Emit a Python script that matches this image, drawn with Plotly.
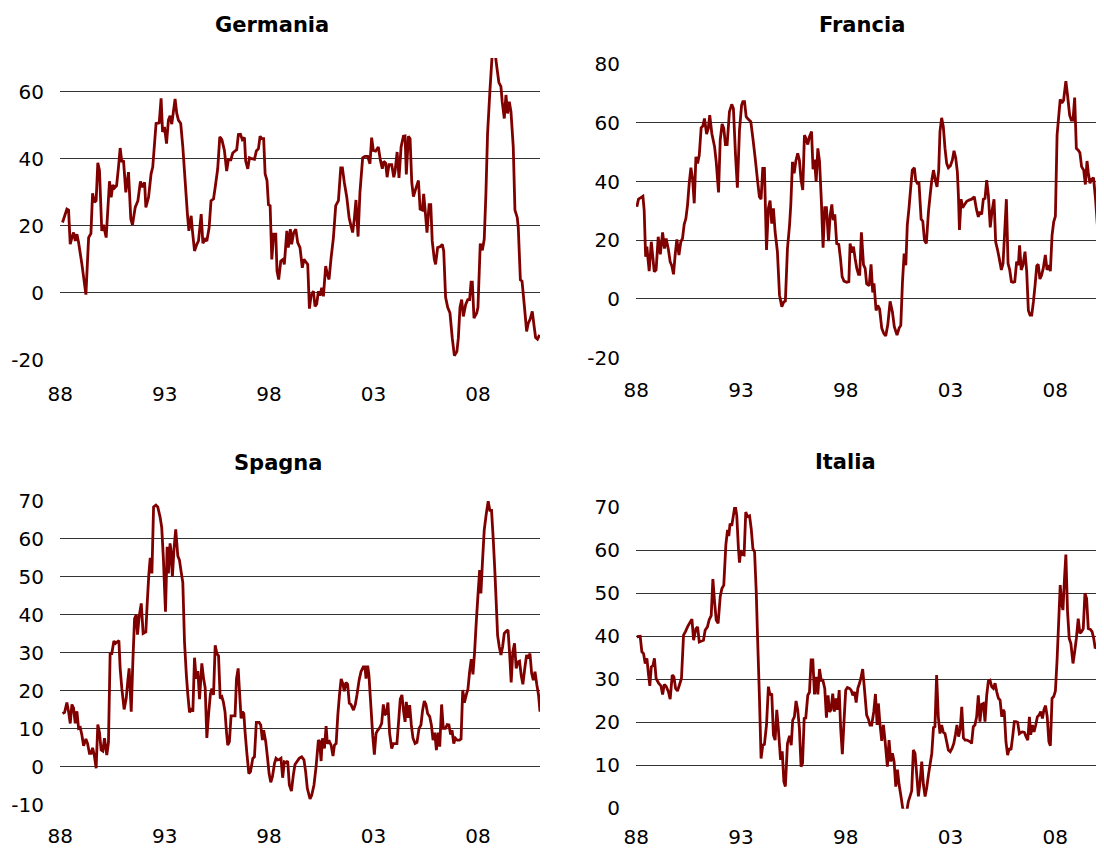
import plotly.graph_objects as go

# anni decimali (asse x) e valori
GERMANIA = [
    (1988.11, 21), (1988.32, 25), (1988.40, 24.7), (1988.48, 14.5), (1988.56, 16.5), (1988.64, 18),
    (1988.72, 15.5), (1988.80, 17.5), (1988.88, 15), (1989.04, 8.5), (1989.23, -0.5), (1989.36, 16.5),
    (1989.47, 17.7), (1989.55, 29.7), (1989.64, 27), (1989.72, 27.5), (1989.80, 38.8), (1989.88, 36.5),
    (1989.99, 18.5), (1990.07, 20.3), (1990.20, 16.5), (1990.36, 33.3), (1990.44, 28.5), (1990.52, 32.2),
    (1990.60, 31.3), (1990.70, 32), (1990.79, 37.5), (1990.87, 43.2), (1990.95, 39), (1991.03, 39.5),
    (1991.14, 30), (1991.27, 36), (1991.38, 22), (1991.46, 20.3), (1991.59, 25.5), (1991.72, 27.5),
    (1991.84, 33.2), (1991.94, 31.5), (1992.04, 33), (1992.10, 25.5), (1992.23, 28.5), (1992.35, 35.5),
    (1992.43, 37.5), (1992.59, 50.5), (1992.74, 50.7), (1992.83, 58), (1992.90, 48), (1992.99, 49.5),
    (1993.09, 44.5), (1993.18, 51.5), (1993.26, 52.8), (1993.34, 50.3), (1993.50, 57.8), (1993.58, 53.5),
    (1993.66, 51.5), (1993.77, 50.5), (1993.87, 43.5), (1993.98, 33.5), (1994.09, 23.5), (1994.16, 18.5),
    (1994.27, 23), (1994.33, 18.5), (1994.43, 12.5), (1994.54, 14.5), (1994.62, 15.5), (1994.75, 23.5),
    (1994.83, 14.8), (1994.94, 16), (1995.02, 15.5), (1995.13, 19.5), (1995.22, 27.5), (1995.34, 28),
    (1995.42, 31.5), (1995.54, 37), (1995.64, 46.5), (1995.74, 45.7), (1995.86, 42.5), (1995.97, 36.3),
    (1996.05, 39.7), (1996.17, 39.7), (1996.26, 41.7), (1996.37, 42.3), (1996.45, 42.7), (1996.53, 47.2),
    (1996.63, 47.3), (1996.72, 45.7), (1996.82, 46.3), (1996.88, 39.3), (1996.98, 37), (1997.06, 40.3),
    (1997.17, 40), (1997.30, 39.8), (1997.39, 42.3), (1997.49, 43), (1997.57, 46.7), (1997.65, 46),
    (1997.74, 46), (1997.81, 35.5), (1997.90, 33.5), (1997.97, 26.3), (1998.05, 26), (1998.13, 10),
    (1998.22, 17.5), (1998.32, 17.5), (1998.38, 6.5), (1998.46, 4), (1998.56, 9.5), (1998.67, 10),
    (1998.73, 8.5), (1998.85, 18.5), (1998.92, 13.5), (1999.02, 19), (1999.08, 14.5), (1999.18, 18),
    (1999.28, 19), (1999.37, 15), (1999.48, 13.5), (1999.59, 7.5), (1999.67, 10), (1999.85, 8.5),
    (1999.93, -4.7), (2000.01, -0.8), (2000.12, 0.5), (2000.20, -4), (2000.28, -3.3), (2000.36, 0.5),
    (2000.44, -0.8), (2000.52, 1.5), (2000.60, -1), (2000.71, 8), (2000.79, 5.5), (2000.87, 4),
    (2000.97, 10.5), (2001.08, 16.5), (2001.19, 26), (2001.32, 27.5), (2001.43, 37.3), (2001.51, 37.3),
    (2001.60, 33), (2001.72, 28.5), (2001.83, 22.5), (2001.92, 20), (2002.00, 18), (2002.08, 22),
    (2002.16, 27.7), (2002.26, 16.8), (2002.35, 30), (2002.48, 40.3), (2002.59, 40.7), (2002.72, 40.7),
    (2002.83, 38.5), (2002.91, 46.3), (2002.99, 42.5), (2003.10, 42.3), (2003.23, 43.5), (2003.33, 39.5),
    (2003.42, 37), (2003.49, 39.2), (2003.58, 38.7), (2003.65, 34.5), (2003.74, 38.2), (2003.87, 38.2),
    (2003.97, 34.5), (2004.03, 36.2), (2004.13, 42), (2004.22, 34.3), (2004.32, 43.5), (2004.43, 46.7),
    (2004.51, 46.8), (2004.57, 35.3), (2004.67, 46.7), (2004.75, 46), (2004.83, 33), (2004.91, 28.7),
    (2005.02, 31), (2005.15, 33.5), (2005.23, 25), (2005.34, 24.7), (2005.40, 29.5), (2005.46, 25.5),
    (2005.56, 18), (2005.66, 26.3), (2005.74, 26.3), (2005.81, 15.5), (2005.91, 10), (2005.97, 8.5),
    (2006.07, 13.5), (2006.20, 13.8), (2006.29, 14.5), (2006.36, 12.5), (2006.45, -1.3), (2006.55, -4.3),
    (2006.66, -6), (2006.77, -13.5), (2006.87, -18.7), (2006.99, -17.5), (2007.06, -13.5), (2007.14, -4.3),
    (2007.22, -2), (2007.30, -7), (2007.41, -3.5), (2007.51, -2), (2007.60, -2), (2007.67, 3.2),
    (2007.73, 3.2), (2007.81, -7.5), (2007.94, -6), (2008.00, -4.3), (2008.11, 14.7), (2008.21, 12.7),
    (2008.30, 16), (2008.38, 29.5), (2008.46, 47.5), (2008.57, 60), (2008.69, 72), (2008.81, 72),
    (2008.91, 67), (2009.00, 62.8), (2009.10, 61.5), (2009.16, 57), (2009.26, 52), (2009.34, 59),
    (2009.42, 53.5), (2009.50, 57), (2009.58, 54), (2009.69, 43.5), (2009.77, 24.7), (2009.88, 22.5),
    (2009.93, 19.5), (2010.03, 3.9), (2010.11, 3.5), (2010.22, -3.8), (2010.33, -11.5), (2010.41, -9),
    (2010.50, -7.8), (2010.60, -5.5), (2010.70, -10.5), (2010.76, -13.3), (2010.85, -13.8), (2010.95, -12.5),
]

FRANCIA = [
    (1988.03, 31.4), (1988.11, 34), (1988.22, 34.5), (1988.32, 35), (1988.38, 30.3), (1988.45, 14.4),
    (1988.51, 17.8), (1988.56, 13.8), (1988.62, 9.5), (1988.72, 19.5), (1988.80, 13.8), (1988.86, 9.3),
    (1988.95, 9.9), (1989.05, 21.2), (1989.15, 15.2), (1989.26, 22.7), (1989.35, 17.2), (1989.43, 20.6),
    (1989.54, 16.7), (1989.62, 12.7), (1989.70, 11.3), (1989.78, 8.4), (1989.86, 15), (1989.94, 20.3),
    (1990.04, 15), (1990.13, 19.5), (1990.21, 20.6), (1990.29, 25.4), (1990.37, 27.4), (1990.45, 32),
    (1990.53, 39.4), (1990.61, 44.7), (1990.69, 41.1), (1990.77, 32.6), (1990.85, 48.4), (1990.93, 46.2),
    (1991.01, 49), (1991.10, 58.3), (1991.18, 58.9), (1991.26, 61.5), (1991.36, 56.2), (1991.44, 58.1),
    (1991.51, 62.6), (1991.61, 56.4), (1991.74, 51.9), (1991.82, 46.7), (1991.93, 36.3), (1992.01, 54.1),
    (1992.10, 59.6), (1992.18, 58.1), (1992.26, 52.6), (1992.34, 52.6), (1992.45, 63.8), (1992.56, 66.3),
    (1992.64, 64.9), (1992.74, 49), (1992.83, 37.9), (1992.93, 57.5), (1993.03, 66), (1993.09, 67.2),
    (1993.17, 67.2), (1993.25, 62.1), (1993.34, 61.3), (1993.47, 60.4), (1993.57, 54.7), (1993.68, 47.9),
    (1993.79, 40.5), (1993.88, 34.8), (1993.96, 34), (1994.04, 44.5), (1994.12, 44.5), (1994.22, 16.7),
    (1994.31, 30.9), (1994.39, 33.5), (1994.47, 25.7), (1994.55, 30.9), (1994.63, 22.9), (1994.74, 16.1),
    (1994.84, 1.3), (1994.95, -2.6), (1995.05, -0.9), (1995.12, -0.7), (1995.22, 17.2), (1995.32, 25.2),
    (1995.38, 32.2), (1995.46, 46.7), (1995.54, 42.8), (1995.62, 47), (1995.71, 49.6), (1995.79, 47.3),
    (1995.87, 40.5), (1995.95, 37.1), (1996.03, 55.8), (1996.11, 54.7), (1996.19, 52.6), (1996.27, 55.3),
    (1996.37, 57), (1996.44, 44.2), (1996.51, 47.5), (1996.59, 39.9), (1996.67, 51.3), (1996.75, 47),
    (1996.84, 33.1), (1996.92, 17.5), (1997.00, 31.1), (1997.08, 31.1), (1997.18, 19.7), (1997.26, 28.6),
    (1997.34, 32.2), (1997.40, 26.9), (1997.48, 28.8), (1997.57, 18.9), (1997.67, 18.6), (1997.75, 13.8),
    (1997.83, 7.6), (1997.92, 6.1), (1998.05, 5.7), (1998.15, 5.9), (1998.21, 18.9), (1998.29, 15.8),
    (1998.37, 17.8), (1998.45, 13.8), (1998.53, 10.4), (1998.61, 8.4), (1998.67, 8.4), (1998.75, 22.7),
    (1998.85, 11.6), (1998.93, 10.4), (1999.00, 5.2), (1999.12, 4.5), (1999.21, 11.8), (1999.29, 2.2),
    (1999.35, 5.3), (1999.45, -3.9), (1999.53, -2.2), (1999.62, -3.5), (1999.72, -9.9), (1999.82, -11.8),
    (1999.91, -12.6), (2000.01, -8.7), (2000.12, -0.8), (2000.23, -4.4), (2000.32, -9.4), (2000.45, -12.3),
    (2000.55, -9.9), (2000.63, -9), (2000.71, 5.8), (2000.79, 15.5), (2000.87, 11.5), (2000.94, 25.2),
    (2001.02, 30.9), (2001.10, 37.7), (2001.18, 43.9), (2001.28, 44.7), (2001.34, 40.5), (2001.42, 39.4),
    (2001.50, 39.4), (2001.60, 27.2), (2001.68, 26.5), (2001.76, 20), (2001.85, 18.9), (2001.95, 29.7),
    (2002.04, 36), (2002.11, 40.5), (2002.19, 43.9), (2002.28, 40.5), (2002.36, 38.2), (2002.44, 43.9),
    (2002.50, 57), (2002.58, 61.7), (2002.66, 58.7), (2002.74, 51.3), (2002.82, 46.2), (2002.90, 44.7),
    (2003.00, 45.4), (2003.09, 47.3), (2003.17, 50.5), (2003.25, 48.1), (2003.33, 43.3), (2003.38, 35.4),
    (2003.43, 23.5), (2003.51, 34), (2003.58, 31.1), (2003.66, 32), (2003.78, 33.3), (2003.89, 33.7),
    (2004.01, 34), (2004.14, 34.8), (2004.24, 30.6), (2004.33, 28), (2004.41, 29.7), (2004.49, 28.8),
    (2004.57, 34), (2004.65, 34.3), (2004.73, 40.5), (2004.81, 35.4), (2004.90, 24.4), (2004.98, 29.7),
    (2005.08, 34), (2005.16, 19.4), (2005.25, 16.7), (2005.33, 13.8), (2005.43, 9.9), (2005.51, 12.1),
    (2005.59, 22.9), (2005.67, 34), (2005.75, 12.1), (2005.83, 9.9), (2005.91, 5.9), (2005.99, 5.7),
    (2006.07, 5.9), (2006.16, 12.7), (2006.24, 11.5), (2006.30, 18.3), (2006.38, 9.9), (2006.46, 11.5),
    (2006.56, 16.1), (2006.64, 9.3), (2006.72, -3.9), (2006.80, -5.5), (2006.88, -5.5), (2006.96, -1),
    (2007.04, 4.7), (2007.12, 11.3), (2007.19, 11.8), (2007.27, 6.8), (2007.35, 8.1), (2007.43, 10.4),
    (2007.53, 15), (2007.61, 9.9), (2007.69, 11.5), (2007.77, 9.5), (2007.85, 21.7), (2007.93, 26.3),
    (2008.01, 28.2), (2008.09, 55.8), (2008.16, 61.5), (2008.24, 68), (2008.32, 66.8), (2008.40, 67.7),
    (2008.51, 74.2), (2008.59, 69.4), (2008.69, 62.6), (2008.77, 60.9), (2008.85, 60.9), (2008.93, 68.6),
    (2009.01, 51.3), (2009.10, 50.7), (2009.18, 49.8), (2009.26, 45.1), (2009.36, 43.9), (2009.44, 39),
    (2009.52, 47), (2009.58, 43.1), (2009.66, 39.4), (2009.74, 40.8), (2009.83, 41.3), (2009.93, 33.7),
    (2010.01, 25.4), (2010.09, 31.4), (2010.17, 32.6), (2010.25, 31.4), (2010.33, 31.8),
]

SPAGNA = [
    (1988.11, 14), (1988.21, 14.3), (1988.32, 16.9), (1988.40, 14.5), (1988.48, 11.4), (1988.56, 16.4),
    (1988.64, 15.4), (1988.72, 11.4), (1988.80, 14.6), (1988.88, 10.1), (1988.96, 10.3), (1989.04, 8.3),
    (1989.12, 5.5), (1989.23, 7.3), (1989.31, 6.1), (1989.40, 3.5), (1989.48, 3.5), (1989.55, 5),
    (1989.63, 3.1), (1989.72, -0.4), (1989.80, 11.1), (1989.88, 9), (1989.96, 4.4), (1990.04, 4.1),
    (1990.12, 7.5), (1990.23, 3.1), (1990.31, 6.4), (1990.39, 29.8), (1990.47, 29.8), (1990.57, 33.1),
    (1990.65, 32.5), (1990.73, 32.9), (1990.81, 33.2), (1990.87, 25.9), (1990.95, 20.6), (1991.06, 15.1),
    (1991.16, 18), (1991.24, 22.8), (1991.30, 25.9), (1991.40, 14.5), (1991.48, 28.1), (1991.56, 39),
    (1991.64, 40), (1991.70, 34.8), (1991.78, 39.5), (1991.88, 43), (1991.97, 35.1), (1992.10, 35.5),
    (1992.16, 42.5), (1992.24, 50.4), (1992.31, 55), (1992.39, 50.9), (1992.47, 68.4), (1992.58, 68.9),
    (1992.67, 68.4), (1992.78, 65.8), (1992.86, 63), (1992.94, 54.8), (1993.04, 40.8), (1993.12, 57.9),
    (1993.18, 50.9), (1993.26, 58.8), (1993.31, 56.6), (1993.37, 50), (1993.45, 57.5), (1993.53, 62.5),
    (1993.63, 55.5), (1993.71, 54.4), (1993.79, 51.3), (1993.87, 48.5), (1993.95, 32.9), (1994.04, 24.1),
    (1994.11, 19), (1994.19, 14.3), (1994.27, 15.4), (1994.35, 14.5), (1994.43, 28.7), (1994.51, 23.2),
    (1994.59, 25.2), (1994.67, 17.8), (1994.78, 27.2), (1994.86, 23.4), (1994.94, 20.8), (1995.02, 7.6),
    (1995.10, 13.6), (1995.19, 19.1), (1995.26, 20.6), (1995.34, 18.9), (1995.42, 32), (1995.50, 29.8),
    (1995.58, 29.2), (1995.66, 18), (1995.74, 18.4), (1995.81, 17.1), (1995.89, 14.5), (1995.96, 9.2),
    (1996.02, 5.7), (1996.10, 6.6), (1996.18, 13.4), (1996.29, 13.4), (1996.37, 13.4), (1996.44, 23.2),
    (1996.52, 25.9), (1996.58, 20.2), (1996.66, 12.7), (1996.72, 14.5), (1996.79, 14), (1996.85, 9.2),
    (1996.93, 3.9), (1997.03, -1.8), (1997.11, -1.3), (1997.22, 2.2), (1997.30, 2.6), (1997.39, 11.7),
    (1997.52, 11.7), (1997.60, 11), (1997.68, 7), (1997.74, 9.6), (1997.84, 6.6), (1997.92, 2.6),
    (1998.00, -1.8), (1998.08, -4.1), (1998.16, -2.6), (1998.26, 0.9), (1998.33, 2.2), (1998.41, 1.8),
    (1998.49, 1.9), (1998.57, 2.2), (1998.65, -2.9), (1998.73, 1.3), (1998.81, 1.1), (1998.89, 1.5),
    (1998.97, -4.8), (1999.07, -6.4), (1999.16, -2.2), (1999.24, 0.6), (1999.44, 2.2), (1999.56, 2.6),
    (1999.67, 1.8), (1999.75, -1.3), (1999.83, -5.7), (1999.96, -8.5), (2000.04, -7.5), (2000.15, -4.8),
    (2000.25, 0), (2000.36, 7), (2000.42, 6.6), (2000.49, 1.5), (2000.55, 7.5), (2000.65, 4.8),
    (2000.73, 10.7), (2000.79, 6.1), (2000.89, 6.6), (2000.97, 5.7), (2001.06, 2.8), (2001.13, 5.7),
    (2001.21, 6.1), (2001.29, 13.6), (2001.37, 18.9), (2001.45, 23.1), (2001.53, 21.9), (2001.60, 19.9),
    (2001.68, 22.2), (2001.76, 21.7), (2001.84, 16.7), (2001.92, 16.4), (2002.04, 14.9), (2002.13, 16.4),
    (2002.21, 19), (2002.31, 22.8), (2002.40, 25), (2002.51, 26.3), (2002.59, 26.3), (2002.64, 23.2),
    (2002.72, 26.6), (2002.78, 24.1), (2002.88, 15.4), (2002.96, 8.3), (2003.04, 3.2), (2003.12, 8.8),
    (2003.20, 9.6), (2003.30, 10.3), (2003.39, 11.4), (2003.47, 16.4), (2003.53, 13.6), (2003.61, 14),
    (2003.69, 16.9), (2003.77, 8.8), (2003.87, 4.8), (2003.95, 6.1), (2004.03, 6.1), (2004.12, 6.1),
    (2004.20, 11.8), (2004.28, 17.8), (2004.36, 18.9), (2004.44, 14.6), (2004.51, 11.8), (2004.57, 17.1),
    (2004.65, 12.9), (2004.73, 16.2), (2004.81, 11), (2004.89, 7.5), (2004.99, 6.1), (2005.08, 6.4),
    (2005.18, 10.1), (2005.27, 11), (2005.35, 14.9), (2005.43, 17.3), (2005.51, 16.4), (2005.59, 14),
    (2005.69, 13.2), (2005.77, 11), (2005.85, 7), (2005.93, 9), (2006.01, 4.4), (2006.09, 9),
    (2006.17, 5.3), (2006.26, 16.4), (2006.34, 10.1), (2006.44, 10.1), (2006.53, 11.1), (2006.61, 11),
    (2006.69, 8.5), (2006.76, 9.6), (2006.84, 6.1), (2006.92, 7.5), (2007.01, 7), (2007.11, 7),
    (2007.19, 7.3), (2007.27, 20.2), (2007.35, 16.9), (2007.44, 18.9), (2007.52, 20.4), (2007.60, 25),
    (2007.68, 28.3), (2007.76, 24.3), (2007.84, 30.3), (2007.92, 38.2), (2008.00, 45.2), (2008.08, 51.8),
    (2008.14, 45.6), (2008.22, 54.4), (2008.30, 62.3), (2008.40, 66.7), (2008.49, 69.9), (2008.57, 67.5),
    (2008.65, 67.5), (2008.73, 60.1), (2008.81, 51.3), (2008.88, 42.5), (2008.94, 34.6), (2009.02, 31.6),
    (2009.10, 29.4), (2009.18, 31.6), (2009.26, 35.1), (2009.36, 35.7), (2009.44, 36), (2009.52, 29.4),
    (2009.59, 22.2), (2009.67, 30.3), (2009.75, 32.5), (2009.83, 25.9), (2009.91, 27.6), (2009.99, 27.8),
    (2010.07, 24.1), (2010.15, 21.7), (2010.25, 26.3), (2010.33, 29.4), (2010.41, 28.5), (2010.49, 29.8),
    (2010.57, 24.6), (2010.65, 22.8), (2010.73, 25), (2010.82, 21.5), (2010.90, 18.9), (2010.97, 14.5),
]

ITALIA = [
    (1988.03, 39.9), (1988.19, 40), (1988.27, 36.4), (1988.35, 36), (1988.43, 33.7), (1988.51, 34.9),
    (1988.59, 31), (1988.65, 28.5), (1988.72, 32.9), (1988.80, 33.2), (1988.87, 34.9), (1988.95, 30.2),
    (1989.07, 29.1), (1989.18, 28.5), (1989.26, 26.5), (1989.34, 28.8), (1989.43, 28.4), (1989.54, 27.1),
    (1989.62, 25.4), (1989.72, 31), (1989.80, 30.6), (1989.88, 27.9), (1989.97, 27.3), (1990.07, 28.8),
    (1990.16, 30.2), (1990.26, 40.3), (1990.35, 41.1), (1990.45, 42.2), (1990.54, 43), (1990.66, 44),
    (1990.74, 39.1), (1990.85, 41.8), (1990.93, 42.2), (1991.01, 38.7), (1991.12, 38.9), (1991.21, 39.1),
    (1991.29, 41.4), (1991.40, 42.2), (1991.48, 43.8), (1991.58, 44.8), (1991.66, 53.3), (1991.74, 48),
    (1991.82, 43.8), (1991.91, 43), (1992.01, 49.2), (1992.09, 51.1), (1992.18, 51.9), (1992.28, 61.3),
    (1992.36, 64.7), (1992.42, 63.3), (1992.48, 66.2), (1992.56, 65.7), (1992.64, 68.1), (1992.72, 70.6),
    (1992.80, 68.1), (1992.88, 60.4), (1992.93, 57.1), (1992.99, 60), (1993.07, 59), (1993.15, 58.9),
    (1993.23, 68.9), (1993.31, 67.8), (1993.41, 68), (1993.49, 65), (1993.57, 60.4), (1993.65, 59.6),
    (1993.73, 50.3), (1993.80, 38.7), (1993.88, 26.2), (1993.96, 11.6), (1994.04, 14.7), (1994.12, 14.9),
    (1994.22, 19.4), (1994.31, 28.3), (1994.39, 26.3), (1994.47, 26.7), (1994.55, 17.1), (1994.63, 15.9),
    (1994.71, 22.9), (1994.79, 18.2), (1994.89, 11.3), (1994.97, 13.3), (1995.05, 6.2), (1995.12, 5.1),
    (1995.22, 15.1), (1995.32, 16.9), (1995.40, 14.7), (1995.47, 20.5), (1995.55, 21.3), (1995.63, 25),
    (1995.71, 22.9), (1995.79, 18.6), (1995.87, 9.7), (1995.94, 10.5), (1996.02, 21.1), (1996.09, 20.8),
    (1996.19, 26.3), (1996.27, 27), (1996.35, 34.5), (1996.43, 34.5), (1996.51, 26.5), (1996.59, 30.6),
    (1996.67, 26.5), (1996.75, 32.4), (1996.83, 29.8), (1996.91, 29.8), (1997.00, 27.9), (1997.08, 21.1),
    (1997.16, 26.3), (1997.22, 22.5), (1997.30, 22.9), (1997.38, 26.7), (1997.46, 22.5), (1997.54, 25.6),
    (1997.61, 22.9), (1997.69, 27.5), (1997.76, 18.6), (1997.84, 12.6), (1997.92, 20.3), (1998.00, 27.5),
    (1998.08, 28.1), (1998.18, 27.9), (1998.26, 27.5), (1998.34, 26.3), (1998.42, 27.1), (1998.50, 24.6),
    (1998.58, 27.9), (1998.66, 29.1), (1998.73, 30.4), (1998.81, 32.4), (1998.89, 28.1), (1999.00, 21.7),
    (1999.08, 20.8), (1999.16, 19.4), (1999.24, 19.4), (1999.34, 22.5), (1999.42, 26.6), (1999.50, 19.4),
    (1999.56, 24.4), (1999.64, 19.4), (1999.72, 15.7), (1999.80, 19.4), (1999.88, 15.7), (1999.99, 9.7),
    (2000.07, 15.9), (2000.15, 10.9), (2000.23, 12.8), (2000.31, 10.9), (2000.39, 5.1), (2000.47, 9),
    (2000.55, 5.5), (2000.64, 2.8), (2000.72, 0.1), (2000.80, -0.8), (2000.91, -0.8), (2000.99, 1.6),
    (2001.07, 2.8), (2001.15, 4.1), (2001.23, 13.6), (2001.31, 12.8), (2001.39, 7.8), (2001.47, 2.8),
    (2001.55, 6.2), (2001.63, 10.9), (2001.71, 5.5), (2001.79, 2.8), (2001.87, 4.9), (2001.95, 7.8),
    (2002.03, 10.3), (2002.11, 12.8), (2002.19, 18.8), (2002.26, 19), (2002.34, 31), (2002.42, 21.3),
    (2002.50, 17.4), (2002.58, 19.4), (2002.66, 17.7), (2002.74, 17.4), (2002.82, 15.5), (2002.90, 13.6),
    (2002.99, 13.2), (2003.08, 14), (2003.16, 15.1), (2003.24, 17.2), (2003.31, 19.4), (2003.39, 16.7),
    (2003.47, 18.6), (2003.54, 23.6), (2003.62, 16.4), (2003.70, 15.9), (2003.79, 15.9), (2003.87, 15.7),
    (2003.95, 15.5), (2004.01, 15.1), (2004.09, 19), (2004.17, 19.4), (2004.25, 21.3), (2004.33, 26.3),
    (2004.41, 20.2), (2004.49, 24.2), (2004.57, 24.4), (2004.65, 20.2), (2004.73, 26.3), (2004.81, 29.6),
    (2004.89, 29.8), (2004.97, 28.3), (2005.05, 27.9), (2005.13, 29.1), (2005.21, 27.1), (2005.29, 25.6),
    (2005.37, 25.2), (2005.45, 21.3), (2005.51, 22.9), (2005.57, 22.5), (2005.65, 15.5), (2005.73, 12.4),
    (2005.81, 14), (2005.89, 13.6), (2005.97, 16.7), (2006.05, 20.2), (2006.13, 20.2), (2006.21, 20),
    (2006.29, 17.4), (2006.37, 17.7), (2006.45, 17.8), (2006.53, 17.7), (2006.61, 16.7), (2006.69, 15.9),
    (2006.77, 21.3), (2006.83, 17.1), (2006.91, 19.4), (2006.99, 17.8), (2007.07, 19.4), (2007.15, 21.3),
    (2007.23, 21.7), (2007.31, 22.5), (2007.39, 20.9), (2007.46, 22.9), (2007.54, 23.9), (2007.62, 21.3),
    (2007.70, 15.5), (2007.77, 14.6), (2007.85, 25.6), (2007.93, 26), (2008.01, 27.3), (2008.09, 34.5),
    (2008.16, 42.6), (2008.24, 51.9), (2008.31, 47.6), (2008.37, 46.1), (2008.44, 53.1), (2008.51, 59),
    (2008.59, 45.7), (2008.67, 39.5), (2008.75, 38.3), (2008.85, 33.7), (2008.93, 36.4), (2009.01, 39.5),
    (2009.10, 44.1), (2009.18, 40.7), (2009.26, 41.1), (2009.34, 41.8), (2009.42, 50), (2009.50, 48.8),
    (2009.58, 41.8), (2009.68, 41.6), (2009.76, 41.1), (2009.84, 39.5), (2009.91, 37.2), (2009.99, 37.6),
    (2010.07, 39.9), (2010.15, 40.3), (2010.23, 39.4), (2010.31, 41.8),
]

TICK_ANNI = [1988, 1993, 1998, 2003, 2008]
TICK_ETICHETTE = ["88", "93", "98", "03", "08"]

COLORE = "#800000"
FONT = "DejaVu Sans"
# la pagina ha un margine di 8px attorno al grafico: la figura occupa il resto della finestra
BORDO = 8
W, H = 1104 - BORDO, 850 - BORDO

# (titolo, dati, x px sinistra/destra, y px alto/basso, range y, tick y, range x,
#  centro titolo px, distanza etichette asse x)
# le posizioni in px sono quelle della finestra 1104x850
PANNELLI = [
    ("Germania", GERMANIA, (60, 540), (58.1, 360.0), (-20, 70), [-20, 0, 20, 40, 60],
     (1987.99, 2010.97), (272, 25), 20),
    ("Francia", FRANCIA, (636, 1104), (64.0, 357.7), (-20, 80.05), [-20, 0, 20, 40, 60, 80],
     (1987.99, 2010.33), (862, 25), 18),
    ("Spagna", SPAGNA, (60, 540), (500.7, 804.7), (-10, 70.05), [-10, 0, 10, 20, 30, 40, 50, 60, 70],
     (1987.99, 2010.97), (278, 463), 17),
    ("Italia", ITALIA, (636, 1104), (507.0, 808.7), (-0.05, 70.05), [0, 10, 20, 30, 40, 50, 60, 70],
     (1987.99, 2010.33), (845, 462), 14),
]


def fx(px):
    return min(max((px - BORDO) / W, 0.0), 1.0)


def fy(px):
    return min(max(1 - (px - BORDO) / H, 0.0), 1.0)


fig = go.Figure()
annotations = []
for i, (nome, dati, xpx, ypx, yr, ytick, xr, tpos, xoff) in enumerate(PANNELLI, start=1):
    suf = "" if i == 1 else str(i)
    fig.add_trace(go.Scatter(
        x=[p[0] for p in dati], y=[p[1] for p in dati],
        mode="lines", name=nome, showlegend=False,
        line=dict(color=COLORE, width=2.8, simplify=False),
        xaxis="x" + suf, yaxis="y" + suf,
    ))
    fig.layout["xaxis" + suf] = dict(
        domain=[fx(xpx[0]), fx(xpx[1])], range=list(xr), anchor="y" + suf,
        tickmode="array", tickvals=TICK_ANNI, ticktext=TICK_ETICHETTE,
        showgrid=False, zeroline=False, showline=False, ticks="", automargin=False,
        ticklabelstandoff=xoff, tickfont=dict(family=FONT, size=20, color="#000000"),
    )
    fig.layout["yaxis" + suf] = dict(
        domain=[fy(ypx[1]), fy(ypx[0])], range=list(yr), anchor="x" + suf,
        tickmode="array", tickvals=ytick, ticktext=[str(v) for v in ytick],
        showgrid=True, gridcolor="#333333", gridwidth=1, automargin=False,
        zeroline=False, showline=False, ticks="",
        ticklabelstandoff=15, tickfont=dict(family=FONT, size=20, color="#000000"),
    )
    annotations.append(dict(
        text="<b>%s</b>" % nome, x=fx(tpos[0]), y=fy(tpos[1]),
        xref="paper", yref="paper", xanchor="center", yanchor="middle",
        showarrow=False, font=dict(family=FONT, size=21, color="#000000"),
    ))

fig.update_layout(
    template="none",
    width=W, height=H, margin=dict(l=0, r=0, t=0, b=0, pad=0),
    paper_bgcolor="white", plot_bgcolor="white",
    annotations=annotations,
)

fig.write_html("out.html")
